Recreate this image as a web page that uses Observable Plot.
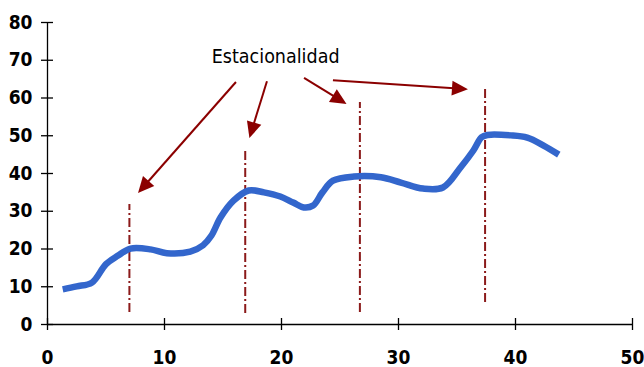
<!DOCTYPE html>
<html><head><meta charset="utf-8">
<script src="https://cdn.jsdelivr.net/npm/d3@7"></script>
<script src="https://cdn.jsdelivr.net/npm/@observablehq/plot@0.6"></script>
<style>body{margin:0;background:#fff}</style>
</head><body><div id="chart"></div>
<script>
// series
const seriesX = [1.3, 2.5, 3.8, 5.0, 6.0, 7.1, 8.8, 10.2, 12.2, 13.3, 14.0, 14.8, 15.9, 17.2, 18.5, 19.9, 21.0, 21.9, 22.7, 23.5, 24.4, 26.2, 28.5, 30.2, 32.1, 33.8, 35.3, 36.4, 37.1, 37.6, 39.6, 41.0, 42.4, 43.7];
const seriesY = [9.3, 10.1, 11.1, 16.0, 18.2, 20.1, 19.9, 18.9, 19.3, 21.0, 23.5, 28.4, 32.8, 35.5, 35.0, 33.9, 32.3, 31.0, 31.5, 35.0, 38.1, 39.2, 39.0, 37.6, 36.0, 36.3, 41.6, 46.1, 49.6, 50.2, 50.1, 49.5, 47.4, 45.0];
// seasonal markers
const seasonX = [7.0, 16.9, 26.7, 37.4];
const seasonTop = [31.8, 46.6, 58.8, 62.7];
const seasonBottom = [3.2, 2.9, 3.2, 5.8];
// annotation
const labelText = ["Estacionalidad"];
const labelX = [19.5];
const labelY = [70.8];
const arrowX1 = [16.15, 18.8, 21.97, 24.44];
const arrowY1 = [64.1, 64.3, 65.2, 64.6];
const arrowX2 = [7.78, 17.3, 25.6, 35.98];
const arrowY2 = [34.7, 49.3, 58.3, 62.2];
// ticks
const xTicks = [0, 10, 20, 30, 40, 50];
const yTicks = [0, 10, 20, 30, 40, 50, 60, 70, 80];

const line = seriesX.map((x, i) => ({x, y: seriesY[i]}));
const seasons = seasonX.map((x, i) => ({x, y1: seasonBottom[i], y2: seasonTop[i]}));
const arrows = arrowX1.map((x1, i) => ({x1, y1: arrowY1[i], x2: arrowX2[i], y2: arrowY2[i]}));
const labels = labelText.map((t, i) => ({t, x: labelX[i], y: labelY[i]}));

const red = "#8b0000";
const headLen = 16, headHalf = 7.5;

function arrowHeads(index, scales) {
  const g = d3.create("svg:g");
  for (const a of arrows) {
    const sx = scales.x(a.x1), sy = scales.y(a.y1);
    const ex = scales.x(a.x2), ey = scales.y(a.y2);
    const ang = Math.atan2(ey - sy, ex - sx);
    const ux = Math.cos(ang), uy = Math.sin(ang);
    const bx = ex - ux * headLen, by = ey - uy * headLen;
    const pts = [[ex, ey], [bx - uy * headHalf, by + ux * headHalf], [bx + uy * headHalf, by - ux * headHalf]];
    g.append("path").attr("d", "M" + pts.map(p => p.join(",")).join("L") + "Z").attr("fill", red);
    g.append("line").attr("x1", sx).attr("y1", sy).attr("x2", bx + ux * 2).attr("y2", by + uy * 2)
      .attr("stroke", red).attr("stroke-width", 2);
  }
  return g.node();
}

const font = "'DejaVu Sans Condensed', 'DejaVu Sans', sans-serif";
const chart = Plot.plot({
  width: 644, height: 367,
  marginLeft: 47, marginRight: 12, marginTop: 22, marginBottom: 43,
  x: {domain: [0, 50], axis: null},
  y: {domain: [0, 80], axis: null},
  style: {fontFamily: font, fontWeight: "bold", color: "#000", background: "#fff"},
  marks: [
    Plot.ruleX(seasons, {x: "x", y1: "y1", y2: "y2", stroke: "#8b1a1a", strokeWidth: 2, strokeDasharray: "9,3,2,3"}),
    Plot.line(line, {x: "x", y: "y", stroke: "#3366cc", strokeWidth: 6.5, curve: "catmull-rom", strokeLinecap: "butt"}),
    Plot.ruleY([0], {stroke: "#000", strokeWidth: 1.3}),
    Plot.ruleX([0], {stroke: "#000", strokeWidth: 1.3}),
    Plot.axisX(xTicks, {tickSize: 12, dy: -6, tickFormat: () => "", label: null, strokeWidth: 1.3}),
    Plot.axisX(xTicks, {tickSize: 0, tickPadding: 26, label: null, fontSize: 19, fontWeight: "bold", fontFamily: font}),
    Plot.axisY(yTicks, {tickSize: 12, dx: 6, tickFormat: () => "", label: null, strokeWidth: 1.3}),
    Plot.axisY(yTicks, {tickSize: 0, tickPadding: 15, label: null, fontSize: 19, fontWeight: "bold", fontFamily: font}),
    Plot.text(labels, {x: "x", y: "y", text: "t", fontSize: 19.5, fontWeight: "normal", fill: "#000", fontFamily: font}),
    arrowHeads
  ]
});
document.getElementById("chart").append(chart);
</script>
</body></html>
